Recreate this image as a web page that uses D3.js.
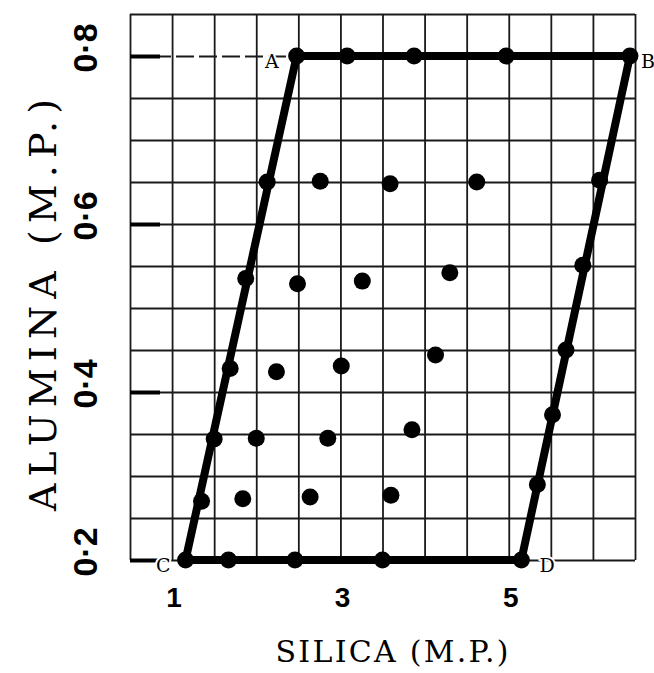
<!DOCTYPE html>
<html>
<head>
<meta charset="UTF-8">
<script src="https://d3js.org/d3.v7.min.js"></script>
<style>
body { margin: 0; background: #fff; }
.grid line { stroke: #1a1a1a; stroke-width: 1.8; }
.grid path { display: none; }
</style>
</head>
<body>
<script>
// values (molecular proportions)
var xTicks = [1, 3, 5];
var yTicks = [0.2, 0.4, 0.6, 0.8];
var yTickLabels = ["0·2", "0·4", "0·6", "0·8"];

// corners of the field, drawn in order A -> B -> D -> C
var cornerNames = ["A", "B", "D", "C"];
var cornerSilica = [2.48, 6.44, 5.15, 1.16];
var cornerAlumina = [0.8, 0.8, 0.2, 0.2];

// every dot on the diagram
var pointSilica = [
  2.48, 3.08, 3.875, 4.97, 6.44,
  2.13, 1.875, 1.69, 1.5, 1.35, 1.16,
  1.67, 2.46, 3.5, 5.15,
  6.08, 5.88, 5.68, 5.52, 5.34,
  2.76, 3.59, 4.62,
  2.49, 3.26, 4.30,
  2.24, 3.01, 4.13,
  2.0, 2.85, 3.85,
  1.84, 2.64, 3.60
];
var pointAlumina = [
  0.8, 0.8, 0.8, 0.8, 0.8,
  0.65, 0.535, 0.428, 0.344, 0.27, 0.2,
  0.2, 0.2, 0.2, 0.2,
  0.652, 0.551, 0.45, 0.373, 0.29,
  0.651, 0.648, 0.65,
  0.529, 0.532, 0.542,
  0.424, 0.431, 0.444,
  0.345, 0.345, 0.355,
  0.273, 0.275, 0.277
];

var width = 654, height = 673;

var x = d3.scaleLinear().domain([0.5, 6.5]).range([130, 635]);
var y = d3.scaleLinear().domain([0.2, 0.85]).range([560, 14]);

var svg = d3.select("body").append("svg")
  .attr("width", width)
  .attr("height", height);

// graph paper: a line every 0.5 silica and every 0.05 alumina
var gridX = d3.range(0, 13).map(function(i) { return 0.5 + i * 0.5; });
var gridY = d3.range(0, 14).map(function(i) { return +(0.2 + i * 0.05).toFixed(2); });

svg.append("g")
  .attr("class", "grid")
  .attr("transform", "translate(0," + y(0.2) + ")")
  .call(d3.axisBottom(x).tickValues(gridX).tickFormat("")
    .tickSize(-(y(0.2) - y(0.85))));

var gy = svg.append("g")
  .attr("class", "grid")
  .attr("transform", "translate(" + x(0.5) + ",0)")
  .call(d3.axisLeft(y).tickValues(gridY).tickFormat("")
    .tickSize(-(x(6.5) - x(0.5))));
// the 0.8 line is broken up on the original
gy.selectAll(".tick").filter(function(d) { return d === 0.8; })
  .select("line").attr("stroke-dasharray", "18,5");

// heavy tick marks inside the left edge
var yAxis = svg.append("g")
  .attr("transform", "translate(" + x(0.5) + ",0)")
  .call(d3.axisRight(y).tickValues(yTicks).tickFormat("").tickSize(30));
yAxis.select(".domain").remove();
yAxis.selectAll("line").attr("stroke", "#000").attr("stroke-width", 4);

// y tick labels, turned on their side
svg.append("g").selectAll("text")
  .data(yTicks)
  .join("text")
  .attr("transform", function(d) { return "translate(97," + (y(d) - 8) + ") rotate(-90)"; })
  .attr("text-anchor", "middle")
  .style("font-family", "'Liberation Sans', Arial, sans-serif")
  .style("font-weight", "bold")
  .style("font-size", "34px")
  .text(function(d, i) { return yTickLabels[i]; });

// x tick labels
svg.append("g").selectAll("text")
  .data(xTicks)
  .join("text")
  .attr("x", function(d) { return x(d) + 2; })
  .attr("y", 607)
  .attr("text-anchor", "middle")
  .style("font-family", "'Liberation Sans', Arial, sans-serif")
  .style("font-weight", "bold")
  .style("font-size", "28px")
  .text(function(d) { return d; });

// field boundary
var corners = cornerNames.map(function(n, i) {
  return { name: n, s: cornerSilica[i], a: cornerAlumina[i] };
});
svg.append("path")
  .datum(corners)
  .attr("fill", "none")
  .attr("stroke", "#000")
  .attr("stroke-width", 8)
  .attr("stroke-linejoin", "round")
  .attr("d", d3.line()
    .curve(d3.curveLinearClosed)
    .x(function(d) { return x(d.s); })
    .y(function(d) { return y(d.a); }));

// dots
var points = pointSilica.map(function(s, i) { return { s: s, a: pointAlumina[i] }; });
svg.append("g").selectAll("circle")
  .data(points)
  .join("circle")
  .attr("cx", function(d) { return x(d.s); })
  .attr("cy", function(d) { return y(d.a); })
  .attr("r", 8.5)
  .attr("fill", "#000");

// corner letters
var labelPos = {
  A: { dx: -18, dy: 12, anchor: "end" },
  B: { dx: 11, dy: 12, anchor: "start" },
  C: { dx: -15, dy: 12, anchor: "end" },
  D: { dx: 18, dy: 12, anchor: "start" }
};
svg.append("g").selectAll("text")
  .data(corners)
  .join("text")
  .attr("x", function(d) { return x(d.s) + labelPos[d.name].dx; })
  .attr("y", function(d) { return y(d.a) + labelPos[d.name].dy; })
  .attr("text-anchor", function(d) { return labelPos[d.name].anchor; })
  .style("font-family", "'DejaVu Serif', serif")
  .style("font-size", "19px")
  .style("paint-order", "stroke")
  .style("stroke", "#fff")
  .style("stroke-width", 4)
  .text(function(d) { return d.name; });

// axis titles
svg.append("text")
  .attr("x", 392)
  .attr("y", 662)
  .attr("text-anchor", "middle")
  .attr("textLength", 233)
  .attr("lengthAdjust", "spacing")
  .style("font-family", "'DejaVu Serif', serif")
  .style("font-size", "30px")
  .text("SILICA (M.P.)");

svg.append("text")
  .attr("transform", "translate(56,305) rotate(-90)")
  .attr("text-anchor", "middle")
  .attr("textLength", 412)
  .attr("lengthAdjust", "spacing")
  .style("font-family", "'DejaVu Serif', serif")
  .style("font-size", "38px")
  .text("ALUMINA (M.P.)");
</script>
</body>
</html>
